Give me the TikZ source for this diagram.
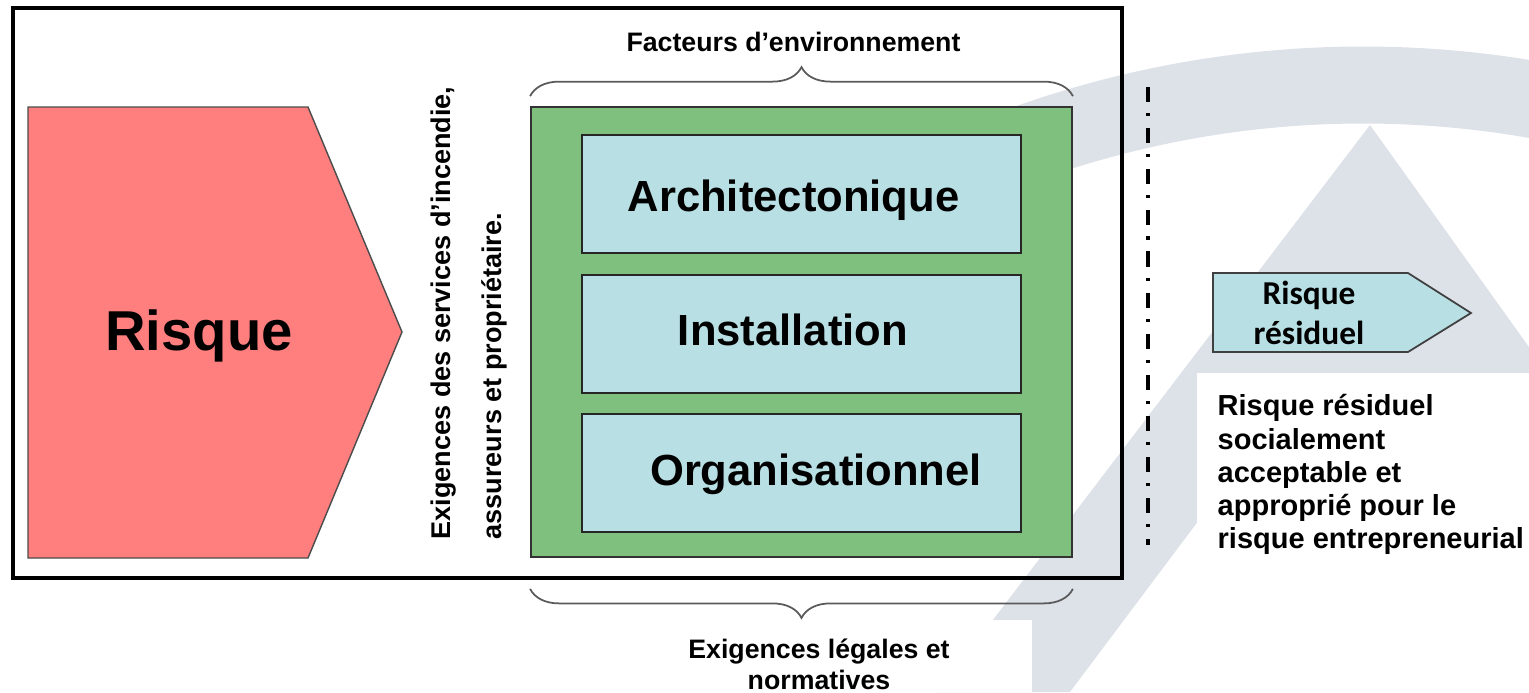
\documentclass[tikz,border=0pt]{standalone}
\usepackage{fontspec}
\setmainfont{Liberation Sans}
\newfontfamily\calibrifont{Carlito}
\usepackage{tikz}
\usetikzlibrary{positioning, calc, decorations.pathreplacing}
\definecolor{risqueRed}{HTML}{FF7F7F}
\definecolor{envGreen}{HTML}{7FC07F}
\definecolor{layerBlue}{HTML}{B8DFE3}
\definecolor{wmGray}{HTML}{DDE1E8}
\definecolor{braceGray}{HTML}{5A5A5A}

\begin{document}
\begin{tikzpicture}[
    every node/.style={font=\bfseries},
    layerbox/.style={draw=black!85, line width=0.6pt, fill=layerBlue,
                     minimum width=4.39cm, minimum height=1.18cm, inner sep=0pt},
    layerlabel/.style={font=\fontsize{12.4}{14}\selectfont\bfseries, anchor=base, inner sep=0pt},
    curly/.style={draw=braceGray, line width=0.5pt, decorate,
                  decoration={brace, amplitude=0.29cm}},
    smalltxt/.style={font=\fontsize{7.6}{9.0}\selectfont\bfseries, inner sep=0pt},
    uptxt/.style={font=\fontsize{7.7}{9.0}\selectfont\bfseries, inner sep=0pt,
                  rotate=90, anchor=base west}
  ]
  \useasboundingbox (0,0) rectangle (15.29,-6.92);

  % Faded logo in the background
  \begin{scope}
    \clip (0,0) rectangle (15.29,-6.92);
    \draw[wmGray, line width=0.77cm] (13.63,-10.85) ++(118:10)
      arc[start angle=118, end angle=76, radius=10];
    \fill[wmGray] (13.70,-1.25) -- (17.76,-6.92) -- (17.00,-6.92) -- (14.80,-4.36)
      -- (12.62,-4.36) -- (10.70,-6.92) -- (9.38,-6.92) -- cycle;
    \fill[white] (11.97,-3.73) rectangle (15.29,-6.92);
    \fill[white] (6.00,-6.20) rectangle (10.32,-6.92);
  \end{scope}

  % Outer frame and the incoming risk
  \draw[line width=1.1pt] (0.13,-0.08) rectangle (11.22,-5.78);
  \filldraw[fill=risqueRed, draw=black!70, line width=0.4pt]
    (0.28,-1.07) -- (3.08,-1.07) -- (4.02,-3.32) -- (3.08,-5.58) -- (0.28,-5.58) -- cycle;
  \node[font=\fontsize{16}{19}\selectfont\bfseries, anchor=base, inner sep=0pt]
    (risque) at (1.99,-3.50) {Risque};

  % Requirements, written upwards
  \node[uptxt] (exigServ) at (4.50,-5.40) {Exigences des services d’incendie,};
  \node[uptxt] (exigProp) at (5.01,-5.40) {assureurs et propriétaire.};

  % Environment block with its three layers
  \node[draw=black!80, line width=0.5pt, fill=envGreen, minimum width=5.41cm,
        minimum height=4.50cm, inner sep=0pt] (envbox) at (8.015,-3.32) {};
  \node[layerbox] (archi) at (8.015,-1.94) {};
  \node[layerbox, below=0.20cm of archi] (install) {};
  \node[layerbox, below=0.19cm of install] (orga) {};
  \node[layerlabel] (archiTxt) at (7.935,-2.11) {Architectonique};
  \node[layerlabel] (installTxt) at (7.93,-3.45) {Installation};
  \node[layerlabel] (orgaTxt) at (8.16,-4.85) {Organisationnel};

  % Braces above and below
  \draw[curly] ([yshift=0.10cm]envbox.north west) -- ([yshift=0.10cm]envbox.north east);
  \draw[curly] ([yshift=-0.31cm]envbox.south east) -- ([yshift=-0.31cm]envbox.south west);
  \node[smalltxt, anchor=base] (facteurs) at (7.935,-0.515) {Facteurs d’environnement};
  \node[smalltxt, anchor=north, align=center] (legales) at (8.19,-6.38)
    {Exigences légales et\\ normatives};

  % Separation line
  \draw[line width=1.3pt, dash pattern=on 4.3pt off 3.1pt on 0.9pt off 3.4pt]
    (11.48,-0.87) -- (11.48,-5.45);

  % Residual risk
  \filldraw[fill=layerBlue, draw=black!75, line width=0.5pt]
    (12.13,-2.73) -- (14.08,-2.73) -- (14.71,-3.13) -- (14.08,-3.52) -- (12.13,-3.52) -- cycle;
  \node[font=\calibrifont\fontsize{9.5}{11.4}\selectfont\bfseries, align=center, inner sep=0pt]
    (residuel) at (13.09,-3.125) {Risque\\ résiduel};
  \node[font=\fontsize{8.25}{9.4}\selectfont\bfseries, align=left, inner sep=0pt, anchor=north west]
    (acceptable) at (12.17,-3.94)
    {Risque résiduel\\ socialement\\ acceptable et\\ approprié pour le\\ risque entrepreneurial};
\end{tikzpicture}
\end{document}
